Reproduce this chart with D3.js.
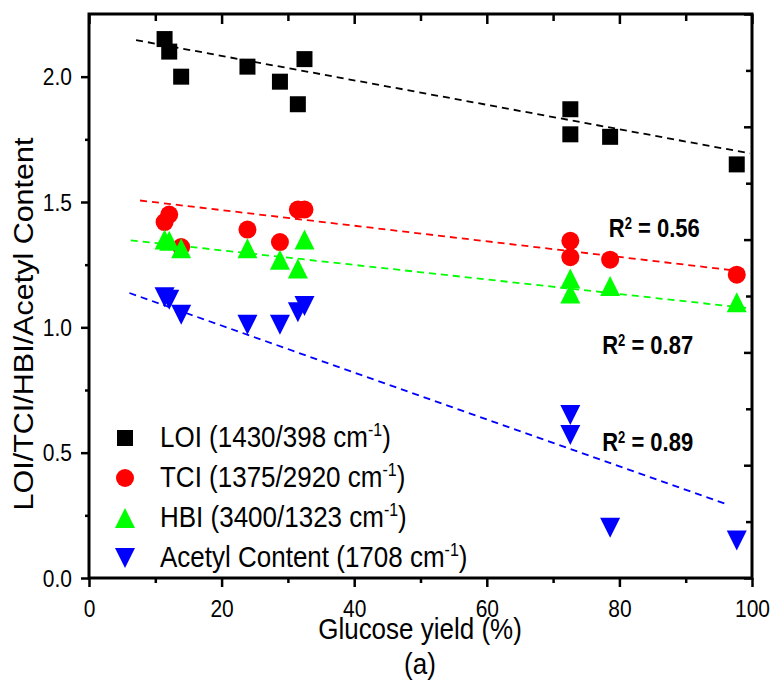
<!DOCTYPE html>
<html>
<head>
<meta charset="utf-8">
<script src="https://cdn.jsdelivr.net/npm/d3@7"></script>
<style>
  body { margin: 0; background: #fff; }
  svg { display: block; font-family: "Liberation Sans", Arial, sans-serif; }
</style>
</head>
<body>
<svg id="chart" width="773" height="680"></svg>
<script>
// glucose yield (%) of each sample
const glucoseYield = [11.4, 12.1, 13.9, 23.9, 28.8, 31.5, 32.5, 72.6, 72.6, 78.6, 97.7];

// index values
const loiValues = [2.15, 2.10, 2.00, 2.04, 1.98, 1.89, 2.07, 1.87, 1.77, 1.76, 1.65];
const tciValues = [1.42, 1.45, 1.32, 1.39, 1.34, 1.47, 1.47, 1.345, 1.28, 1.27, 1.21];
const hbiValues = [1.35, 1.345, 1.315, 1.315, 1.27, 1.235, 1.35, 1.195, 1.135, 1.165, 1.10];
const acetylValues = [1.12, 1.11, 1.05, 1.01, 1.01, 1.06, 1.085, 0.65, 0.57, 0.20, 0.15];

const seriesLabels = ["LOI (1430/398 cm", "TCI (1375/2920 cm", "HBI (3400/1323 cm", "Acetyl Content (1708 cm"];
const seriesShapes = ["square", "circle", "up", "down"];
const seriesColors = ["#000000", "#ff0000", "#00ff00", "#0000ff"];

// linear fits (dashed), start and end of each line
const fitStartX = [7.1, 7.7, 6.3, 6.1];
const fitEndX = [99.7, 99.2, 99.2, 96.4];
const fitStartY = [2.146, 1.506, 1.347, 1.137];
const fitEndY = [1.694, 1.221, 1.077, 0.292];

const r2Values = ["0.56", "0.87", "0.89"];

const xTicks = [0, 20, 40, 60, 80, 100];
const xMinorTicks = [10, 30, 50, 70, 90];
const yTicks = [0, 0.5, 1.0, 1.5, 2.0];
const yMinorTicks = [0.25, 0.75, 1.25, 1.75];

const seriesValues = [loiValues, tciValues, hbiValues, acetylValues];

const svg = d3.select("#chart");
const margin = { top: 14, right: 21, bottom: 102, left: 89 };
const width = 773 - margin.left - margin.right;
const height = 680 - margin.top - margin.bottom;

const g = svg.append("g")
  .attr("transform", "translate(" + margin.left + "," + margin.top + ")");

const xScale = d3.scaleLinear().domain([0, 100]).range([0, width]);
const yScale = d3.scaleLinear().domain([0, 2.25]).range([height, 0]);
// right side only carries evenly spaced ticks
const yRight = d3.scaleLinear().domain([0, 10]).range([height, 0]);

function markerPath(shape, s) {
  const h = s / 2;
  if (shape === "square") return `M${-h},${-h}H${h}V${h}H${-h}Z`;
  if (shape === "circle") return `M${-h},0A${h},${h} 0 1,0 ${h},0A${h},${h} 0 1,0 ${-h},0Z`;
  if (shape === "up") return `M0,${-h}L${h},${h}L${-h},${h}Z`;
  return `M${-h},${-h}L${h},${-h}L0,${h}Z`;
}
const plotSizes = [16, 18, 20, 20];

// fit lines
seriesValues.forEach((vals, i) => {
  g.append("line")
    .attr("x1", xScale(fitStartX[i]))
    .attr("y1", yScale(fitStartY[i]))
    .attr("x2", xScale(fitEndX[i]))
    .attr("y2", yScale(fitEndY[i]))
    .attr("stroke", seriesColors[i])
    .attr("stroke-width", 1.8)
    .attr("stroke-dasharray", "7,5");
});

// markers
seriesValues.forEach((vals, i) => {
  g.selectAll(".pt" + i)
    .data(vals)
    .enter()
    .append("path")
    .attr("class", "pt" + i)
    .attr("transform", (d, j) => `translate(${xScale(glucoseYield[j])},${yScale(d)})`)
    .attr("d", markerPath(seriesShapes[i], plotSizes[i]))
    .attr("fill", seriesColors[i]);
});

// axes
function styleTicks(sel) {
  sel.select(".domain").remove();
  sel.selectAll("line").attr("stroke", "#000").attr("stroke-width", 2.5);
}

const bottom = g.append("g").attr("transform", "translate(0," + height + ")")
  .call(d3.axisBottom(xScale).tickValues(xTicks).tickSize(9).tickFormat(d3.format("d")));
styleTicks(bottom);
bottom.selectAll("text")
  .attr("y", 0).attr("dy", null)
  .attr("transform", "translate(0,39) scale(1,1.12)")
  .style("font-size", "21px").attr("fill", "#000");

g.append("g").attr("transform", "translate(0," + height + ")")
  .call(d3.axisBottom(xScale).tickValues(xMinorTicks).tickSize(5).tickFormat(""))
  .call(styleTicks);

g.append("g")
  .call(d3.axisTop(xScale).tickValues(xTicks).tickSize(-10).tickFormat(""))
  .call(styleTicks);
g.append("g")
  .call(d3.axisTop(xScale).tickValues(xMinorTicks).tickSize(-7).tickFormat(""))
  .call(styleTicks);

const left = g.append("g")
  .call(d3.axisLeft(yScale).tickValues(yTicks).tickSize(8).tickFormat(d3.format(".1f")));
styleTicks(left);
left.selectAll("text")
  .attr("x", 0).attr("dy", null)
  .attr("transform", "translate(-17,8) scale(1,1.12)")
  .style("font-size", "21px").attr("fill", "#000");

g.append("g")
  .call(d3.axisLeft(yScale).tickValues(yMinorTicks).tickSize(4).tickFormat(""))
  .call(styleTicks);

g.append("g").attr("transform", "translate(" + width + ",0)")
  .call(d3.axisRight(yRight).tickValues(d3.range(0, 11, 2)).tickSize(-8).tickFormat(""))
  .call(styleTicks);
g.append("g").attr("transform", "translate(" + width + ",0)")
  .call(d3.axisRight(yRight).tickValues(d3.range(1, 11, 2)).tickSize(-6).tickFormat(""))
  .call(styleTicks);

// frame
g.append("rect")
  .attr("width", width)
  .attr("height", height)
  .attr("fill", "none")
  .attr("stroke", "#000")
  .attr("stroke-width", 3);

// R² labels next to the fits
const r2Pos = [[78.4, 1.36], [77.4, 0.894], [77.4, 0.507]];
r2Values.forEach((v, i) => {
  const t = g.append("text")
    .attr("transform", `translate(${xScale(r2Pos[i][0])},${yScale(r2Pos[i][1])}) scale(1,1.2)`)
    .style("font-size", "22px")
    .style("font-weight", "bold");
  t.append("tspan").text("R");
  t.append("tspan").attr("dy", -7).style("font-size", "13px").text("2");
  t.append("tspan").attr("dy", 7).text(" = " + v);
});

// legend
const legend = g.append("g");
seriesLabels.forEach((label, i) => {
  const cy = 424 + i * 40;
  legend.append("path")
    .attr("transform", `translate(36,${cy})`)
    .attr("d", markerPath(seriesShapes[i], [16, 18, 20, 20][i]))
    .attr("fill", seriesColors[i]);
  const t = legend.append("text")
    .attr("transform", `translate(71,${cy + 9}) scale(1,1.11)`)
    .style("font-size", "26px");
  t.append("tspan").text(label);
  t.append("tspan").attr("dy", -10).style("font-size", "16px").text("-1");
  t.append("tspan").attr("dy", 10).text(")");
});

// axis titles
svg.append("text")
  .attr("transform", "translate(33,324) rotate(-90) scale(1.09,1)")
  .attr("text-anchor", "middle")
  .style("font-size", "28px")
  .text("LOI/TCI/HBI/Acetyl Content");

svg.append("text")
  .attr("transform", "translate(420,639) scale(1,1.14)")
  .attr("text-anchor", "middle")
  .style("font-size", "26px")
  .text("Glucose yield (%)");

svg.append("text")
  .attr("transform", "translate(420,674) scale(1,1.12)")
  .attr("text-anchor", "middle")
  .style("font-size", "26px")
  .text("(a)");
</script>
</body>
</html>
